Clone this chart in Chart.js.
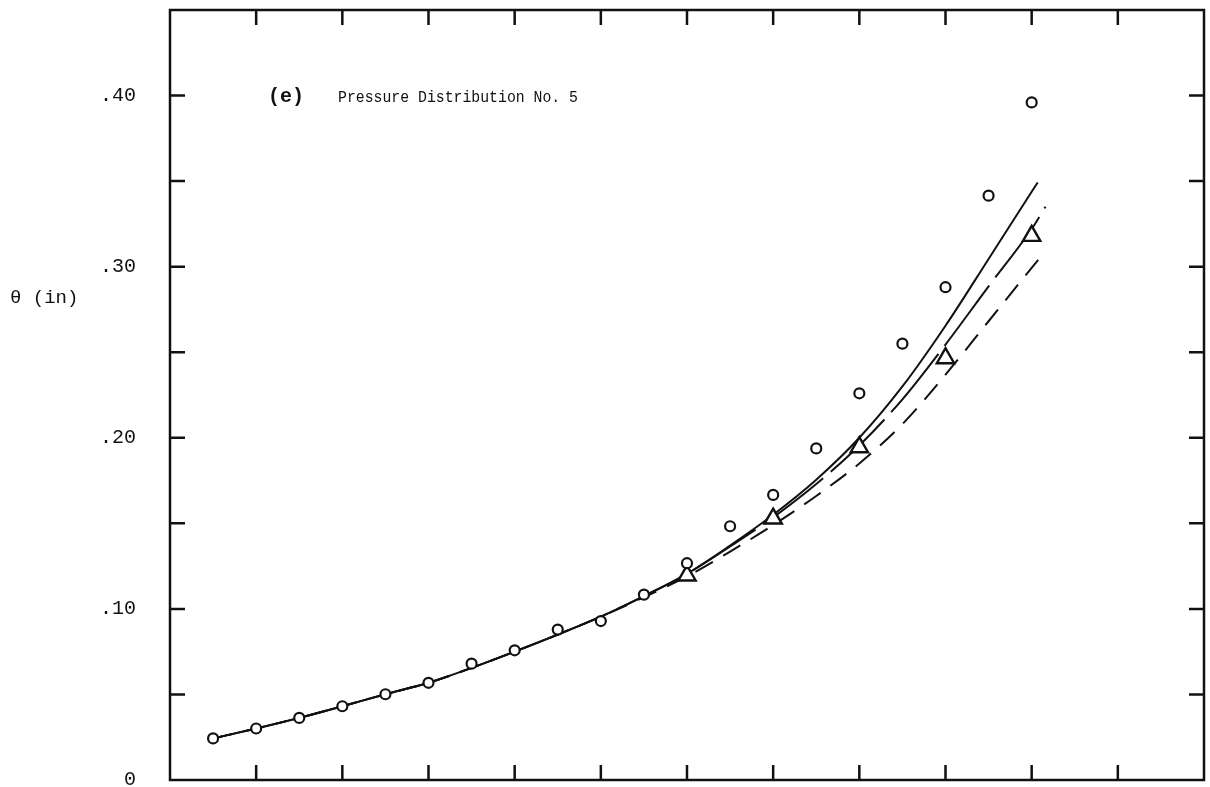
<!DOCTYPE html>
<html>
<head>
<meta charset="utf-8">
<script src="https://cdn.jsdelivr.net/npm/chart.js@4.4.1/dist/chart.umd.min.js"></script>
<style>
  html, body { margin: 0; padding: 0; background: #fff; }
  #wrap { width: 1210px; height: 787px; position: relative; }
</style>
</head>
<body>
<div id="wrap"><canvas id="c"></canvas></div>
<script>
/* Pressure Distribution No. 5 — theta (in) vs station */

// station positions
var stations = [0.5, 1, 1.5, 2, 2.5, 3, 3.5, 4, 4.5, 5, 5.5, 6, 6.5, 7, 7.5, 8, 8.5, 9, 9.5, 10];
// measured (circles)
var measured = [0.0243, 0.0301, 0.0363, 0.0431, 0.0501, 0.0568, 0.0680, 0.0758, 0.0879, 0.0929,
                0.1083, 0.1267, 0.1483, 0.1666, 0.1938, 0.2260, 0.2550, 0.2880, 0.3415, 0.3960];
// triangles
var triX = [6, 7, 8, 9, 10];
var triY = [0.1195, 0.1528, 0.1945, 0.2465, 0.3180];

// computed curves
var curveX1 = [0.5, 1, 1.5, 2, 2.5, 3, 3.5, 4, 4.5, 5, 5.5, 6, 6.5, 7, 7.5, 8, 8.5, 9, 9.5, 10, 10.07];
var solidY  = [0.0243, 0.0301, 0.0363, 0.0431, 0.0501, 0.0568, 0.0655, 0.0750, 0.0850, 0.0955,
               0.1075, 0.1205, 0.1370, 0.1550, 0.1755, 0.2000, 0.2300, 0.2655, 0.3045, 0.3438, 0.3492];
var curveX2 = [0.5, 1, 1.5, 2, 2.5, 3, 3.5, 4, 4.5, 5, 5.5, 6, 6.5, 7, 7.5, 8, 8.5, 9, 9.5, 10, 10.16];
var longDashY  = [0.0243, 0.0301, 0.0363, 0.0431, 0.0501, 0.0568, 0.0655, 0.0750, 0.0850, 0.0955,
                  0.1075, 0.1205, 0.1365, 0.1535, 0.1730, 0.1955, 0.2225, 0.2545, 0.2885, 0.3220, 0.3350];
var shortDashY = [0.0243, 0.0301, 0.0363, 0.0431, 0.0501, 0.0568, 0.0655, 0.0750, 0.0850, 0.0955,
                  0.1068, 0.1190, 0.1335, 0.1490, 0.1660, 0.1850, 0.2080, 0.2369, 0.2681, 0.2993, 0.3090];

// axes
var xTicks = [1, 2, 3, 4, 5, 6, 7, 8, 9, 10, 11];
var yLabels = { 0: '0', 10: '.10', 20: '.20', 30: '.30', 40: '.40' };

var INK = '#111';
var MONO = '"Liberation Mono", "DejaVu Sans Mono", monospace';

function pts(xs, ys) {
  return xs.map(function (x, i) { return { x: x, y: ys[i] }; });
}

// squeeze a string into a given width (typewriter pitch is tighter than the font)
function fitText(ctx, str, x, y, w) {
  var tw = ctx.measureText(str).width;
  ctx.save();
  ctx.translate(x, y);
  ctx.scale(Math.min(1, w / tw), 1);
  ctx.fillText(str, 0, 0);
  ctx.restore();
}

var framePlugin = {
  id: 'frame',
  afterDraw: function (chart) {
    var ctx = chart.ctx, a = chart.chartArea, sx = chart.scales.x, sy = chart.scales.y;
    var T = 15;
    ctx.save();
    ctx.strokeStyle = INK;
    ctx.lineWidth = 2.5;
    ctx.strokeRect(a.left, a.top, a.right - a.left, a.bottom - a.top);
    ctx.beginPath();
    xTicks.forEach(function (v) {
      var px = sx.getPixelForValue(v);
      ctx.moveTo(px, a.top); ctx.lineTo(px, a.top + T);
      ctx.moveTo(px, a.bottom); ctx.lineTo(px, a.bottom - T);
    });
    sy.ticks.forEach(function (t) {
      if (t.value <= 0 || t.value >= sy.max - 1e-9) return;
      var py = sy.getPixelForValue(t.value);
      ctx.moveTo(a.left, py); ctx.lineTo(a.left + T, py);
      ctx.moveTo(a.right, py); ctx.lineTo(a.right - T, py);
    });
    ctx.stroke();

    // text
    ctx.fillStyle = INK;
    ctx.textBaseline = 'middle';
    ctx.textAlign = 'left';
    ctx.font = '19px ' + MONO;
    ctx.fillText('\u03b8 (in)', 10, 298);
    ctx.font = 'bold 20px ' + MONO;
    ctx.fillText('(e)', 268, 97);
    ctx.font = '17px ' + MONO;
    fitText(ctx, 'Pressure Distribution No. 5', 338, 97, 240);
    ctx.restore();
  }
};

new Chart(document.getElementById('c'), {
  type: 'scatter',
  data: {
    datasets: [
      { label: 'measured', data: pts(stations, measured), pointStyle: 'circle', pointRadius: 5,
        pointBorderWidth: 2.2, borderColor: INK, backgroundColor: '#fff', showLine: false, order: 0 },
      { label: 'triangles', data: pts(triX, triY), pointStyle: 'triangle', pointRadius: 10,
        pointBorderWidth: 2.4, borderColor: INK, backgroundColor: '#fff', showLine: false, order: 0 },
      { label: 'solid', data: pts(curveX1, solidY), showLine: true, pointRadius: 0, borderColor: INK,
        borderWidth: 2, cubicInterpolationMode: 'monotone', order: 1 },
      { label: 'long dash', data: pts(curveX2, longDashY), showLine: true, pointRadius: 0, borderColor: INK,
        borderWidth: 2, borderDash: [75, 10], cubicInterpolationMode: 'monotone', order: 1 },
      { label: 'short dash', data: pts(curveX2, shortDashY), showLine: true, pointRadius: 0, borderColor: INK,
        borderWidth: 2, borderDash: [20, 12], cubicInterpolationMode: 'monotone', order: 1 }
    ]
  },
  options: {
    responsive: true,
    maintainAspectRatio: false,
    animation: false,
    layout: { autoPadding: false, padding: { left: 0, top: 10, right: 6, bottom: 7 } },
    plugins: { legend: { display: false }, tooltip: { enabled: false } },
    scales: {
      x: { type: 'linear', min: 0, max: 12, display: false },
      y: {
        type: 'linear', min: 0, max: 0.45,
        afterFit: function (s) { s.width = 170; s.paddingTop = 0; s.paddingBottom = 0; },
        grid: { display: false, drawTicks: false },
        border: { display: false },
        ticks: {
          stepSize: 0.05, padding: 34, color: INK,
          font: { family: MONO, size: 20 },
          callback: function (v) {
            var k = Math.round(v * 100);
            return yLabels.hasOwnProperty(k) ? yLabels[k] : '';
          }
        }
      }
    }
  },
  plugins: [framePlugin]
});
</script>
</body>
</html>
